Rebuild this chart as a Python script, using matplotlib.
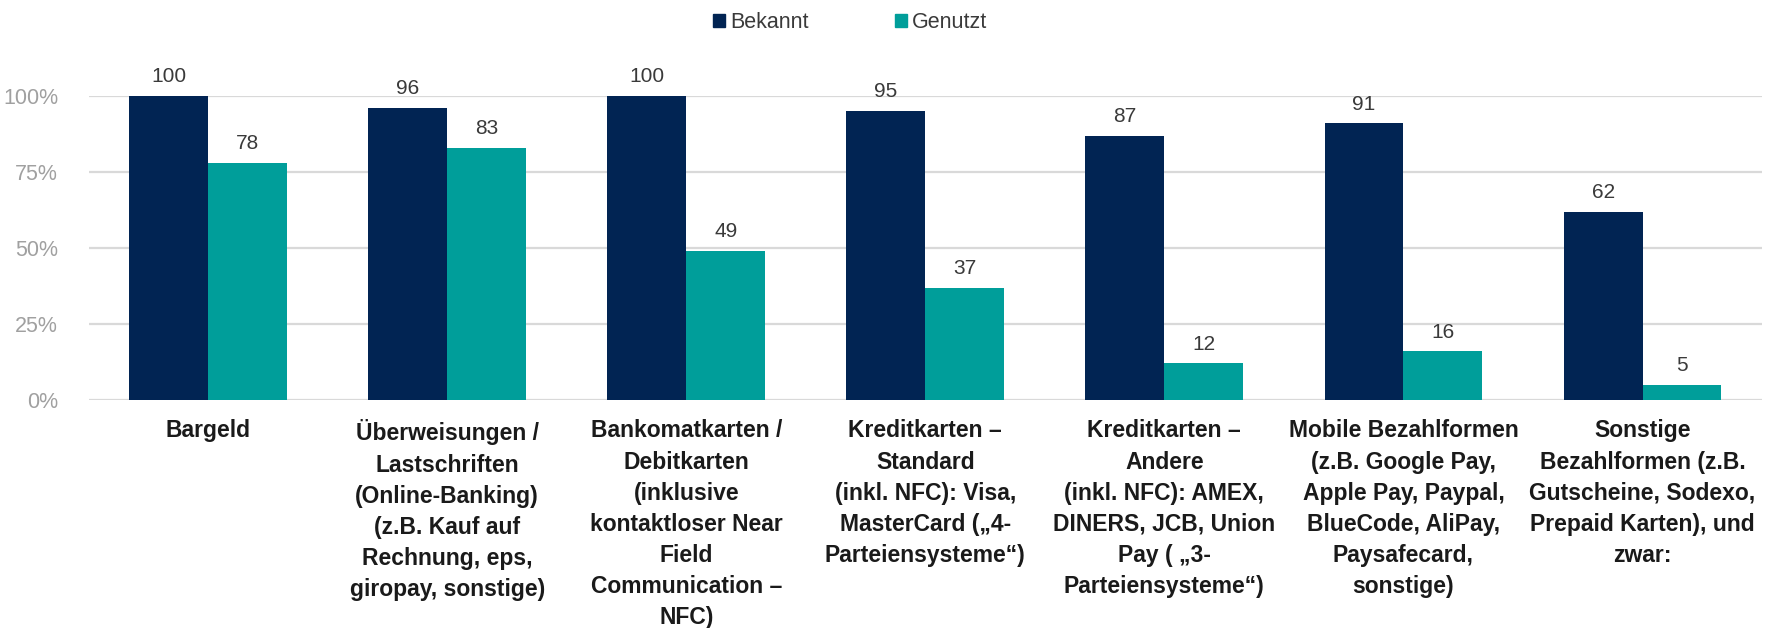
import matplotlib.pyplot as plt
import matplotlib.patches as mpatches
import numpy as np

plt.rcParams['font.family'] = ['Liberation Sans', 'DejaVu Sans']

categories = [
    "Bargeld",
    "Überweisungen /\nLastschriften\n(Online-Banking)\n(z.B. Kauf auf\nRechnung, eps,\ngiropay, sonstige)",
    "Bankomatkarten /\nDebitkarten\n(inklusive\nkontaktloser Near\nField\nCommunication –\nNFC)",
    "Kreditkarten –\nStandard\n(inkl. NFC): Visa,\nMasterCard („4-\nParteiensysteme“)",
    "Kreditkarten –\nAndere\n(inkl. NFC): AMEX,\nDINERS, JCB, Union\nPay ( „3-\nParteiensysteme“)",
    "Mobile Bezahlformen\n(z.B. Google Pay,\nApple Pay, Paypal,\nBlueCode, AliPay,\nPaysafecard,\nsonstige)",
    "Sonstige\nBezahlformen (z.B.\nGutscheine, Sodexo,\nPrepaid Karten), und\nzwar:",
]
bekannt = [100, 96, 100, 95, 87, 91, 62]
genutzt = [78, 83, 49, 37, 12, 16, 5]
series_names = ["Bekannt", "Genutzt"]
colors = ["#012453", "#009e9a"]
yticks = [0, 25, 50, 75, 100]

fig = plt.figure(figsize=(17.75, 6.28), dpi=100)
ax = fig.add_axes([0.0499, 0.3631, 0.9428, 0.484])

x = np.arange(len(categories))
w = 0.33
b1 = ax.bar(x - w / 2, bekannt, w, color=colors[0], zorder=3)
b2 = ax.bar(x + w / 2, genutzt, w, color=colors[1], zorder=3)

for bars, vals in ((b1, bekannt), (b2, genutzt)):
    for rect, v in zip(bars, vals):
        ax.annotate(str(v), (rect.get_x() + rect.get_width() / 2, v),
                    xytext=(0, 7), textcoords="offset points",
                    ha="center", va="bottom", fontsize=15, color="#3a3a3a",
                    annotation_clip=False)

ax.set_xlim(-0.5, len(categories) - 0.5)
ax.set_ylim(0, 100)
ax.set_yticks(yticks)
ax.set_yticklabels([f"{t}%" for t in yticks])
ax.set_xticks(x)
ax.set_xticklabels(categories, fontsize=16.5, fontweight="bold",
                   color="#1a1a1a", linespacing=1.45, va="top")
ax.tick_params(axis="x", length=0, pad=14)
ax.tick_params(axis="y", length=0, pad=22, labelsize=15.5, labelcolor="#a0a0a0")
ax.grid(axis="y", color="#d9d9d9", linewidth=1.6, zorder=0)
for s in ax.spines.values():
    s.set_visible(False)

handles = [mpatches.Patch(color=c, label=n) for c, n in zip(colors, series_names)]
fig.legend(handles=handles, loc="center", bbox_to_anchor=(850 / 1775, 1 - 23 / 628),
           ncol=2, frameon=False, fontsize=15.5, handlelength=0.55, handleheight=0.55,
           handletextpad=0.25, columnspacing=4.0, labelcolor="#3a3a3a")

fig.savefig("out.png", dpi=100)
